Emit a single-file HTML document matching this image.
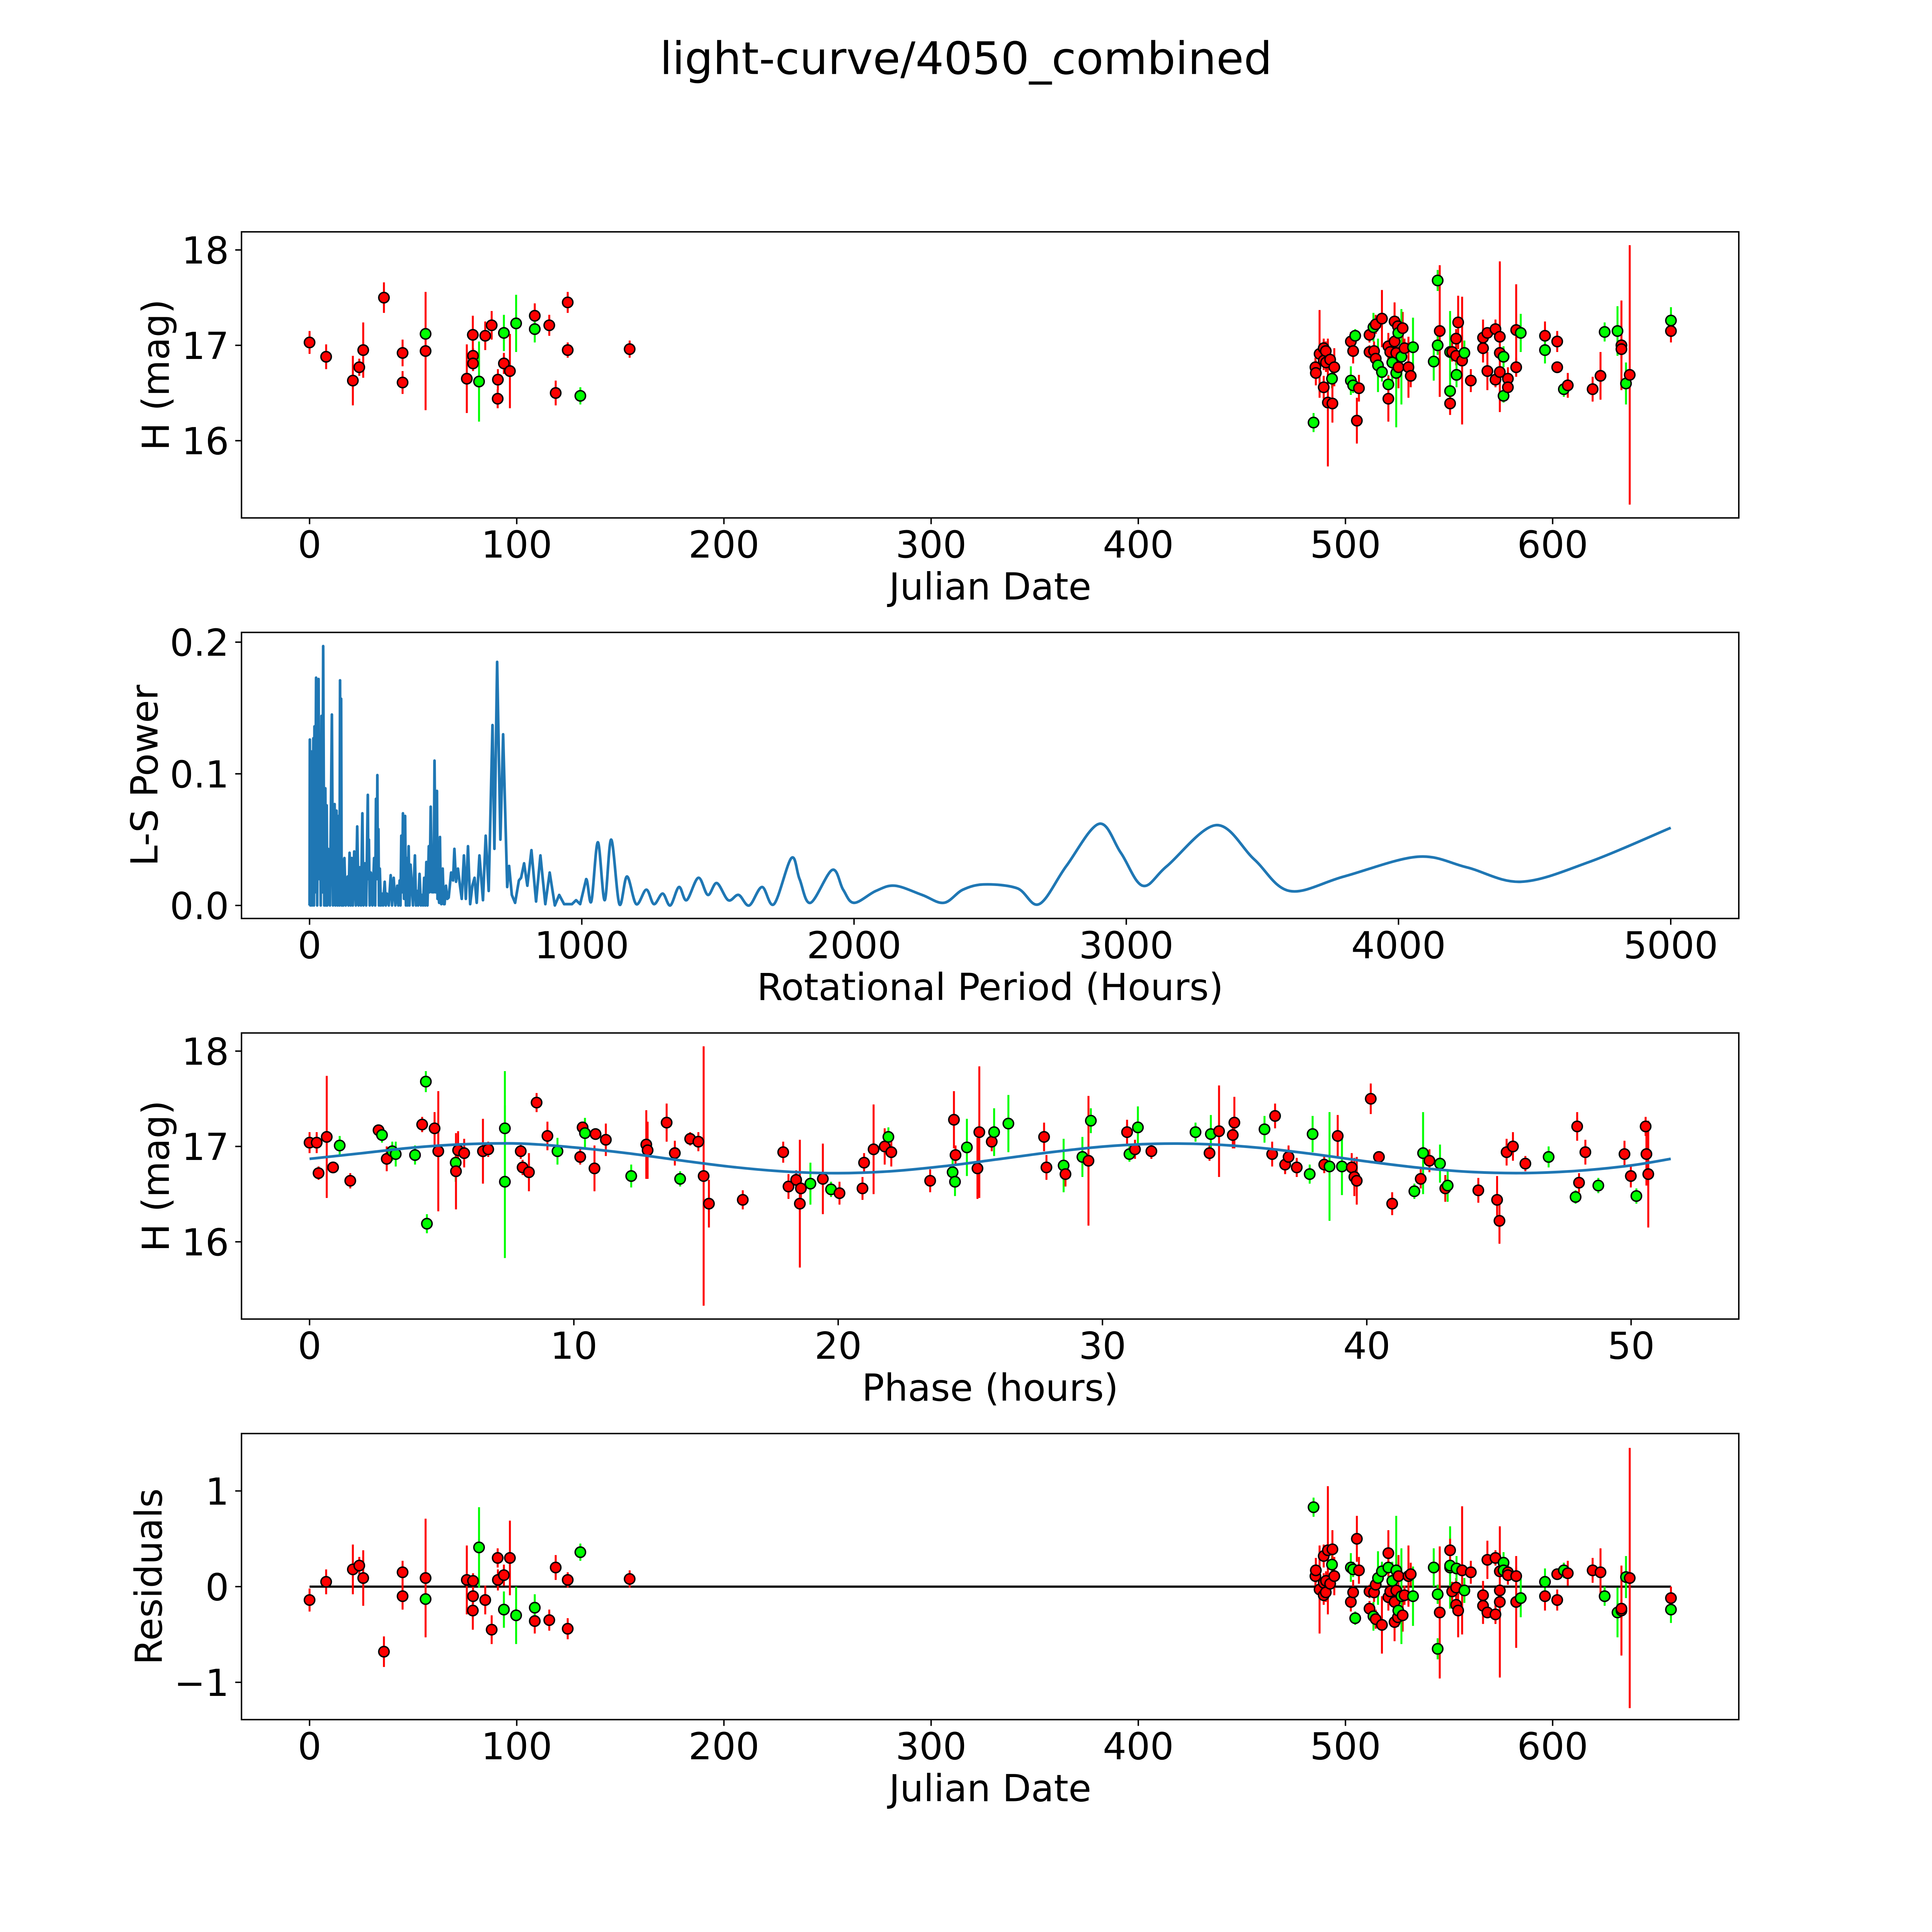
<!DOCTYPE html>
<html><head><meta charset="utf-8"><style>
html,body{margin:0;padding:0;background:#fff;width:100%;height:100%;overflow:hidden}
svg{display:block;width:100vw;height:100vh}
text{font-family:"DejaVu Sans","Liberation Sans",sans-serif;fill:#000}
</style></head><body>
<svg id="fig" xmlns="http://www.w3.org/2000/svg" viewBox="0 0 5400 5400" preserveAspectRatio="none">
<rect x="0" y="0" width="5400" height="5400" fill="#fff"/>
<text x="2700" y="207" font-size="125" text-anchor="middle">light-curve/4050_combined</text>
</svg>
<script>
// ---- Panel 1 & 4 data (Julian date observations) ----
const jd = [0,8,20.9,24,25.9,35.9,44.9,44.9,56,56,75.9,78.8,78.9,78.9,81.8,84.8,87.9,90.9,90.8,93.8,93.8,96.7,99.7,108.7,108.7,115.7,118.8,124.6,124.6,130.7,154.5,
484.6,485.5,485.7,487.5,489.5,489.5,489.5,490.5,490.6,491.5,492.6,493.5,493.7,494.6,502.6,504.7,502.6,503.7,503.7,506.5,505.5,511.6,511.6,513.5,514.6,517.6,513.8,514.6,515.7,517.6,520.7,520.7,520.7,521.6,522.6,523.7,523.7,524.5,524.5,525.3,525.5,525.6,527.6,527.0,528.5,530.4,531.5,532.6,542.6,544.5,544.5,545.5,550.5,550.5,550.5,551.5,553.4,553.4,554.4,553.6,556.3,557.4,560.5,566.4,566.4,568.5,568.5,572.4,572.4,574.5,574.5,574.5,576.3,576.3,578.4,578.4,582.4,584.6,582.4,596.3,596.3,602.2,602.2,605.4,607.3,619.3,623.1,625.1,631.3,633.2,633.2,635.4,637.2,657.1,657.1];
const mag = [17.03,16.88,16.63,16.77,16.95,17.50,16.92,16.61,17.12,16.94,16.65,17.11,16.89,16.81,16.62,17.10,17.21,16.64,16.44,17.13,16.81,16.73,17.23,17.31,17.17,17.21,16.50,17.45,16.95,16.47,16.96,
16.19,16.77,16.71,16.91,16.56,16.97,16.84,16.94,16.82,16.40,16.85,16.65,16.39,16.77,17.04,17.10,16.63,16.58,16.94,16.55,16.21,17.11,16.93,17.19,17.22,17.28,16.94,16.86,16.79,16.72,16.59,16.44,16.99,16.93,16.82,17.25,17.04,16.92,16.71,17.20,17.13,16.77,17.18,16.88,16.97,16.77,16.68,16.98,16.83,17.68,17.00,17.15,16.93,16.52,16.39,16.93,17.07,16.89,17.24,16.69,16.84,16.92,16.63,17.08,16.97,17.13,16.73,17.17,16.64,17.09,16.92,16.72,16.88,16.47,16.65,16.56,17.16,17.13,16.77,17.10,16.95,17.04,16.77,16.54,16.58,16.54,16.68,17.14,17.15,17.00,16.96,16.60,16.69,17.26,17.15];
const magErr = [.12,.13,.26,.09,.29,.16,.14,.12,.05,.62,.36,.2,.08,.08,.42,.15,.15,.11,.1,.19,.11,.39,.3,.13,.14,.11,.13,.11,.08,.09,.09,
.1,.1,.13,.46,.12,.1,.1,.1,.1,.67,.1,.1,.2,.2,.1,.07,.15,.08,.13,.14,.24,.08,.07,.15,.1,.3,.1,.1,.28,.1,.1,.24,.14,.1,.2,.2,.1,.1,.57,.1,.1,.22,.17,.5,.1,.32,.12,.31,.2,.11,.1,.69,.43,.08,.12,.1,.1,.1,.28,.13,.67,.13,.12,.19,.15,.06,.2,.1,.08,.79,.1,.1,.11,.07,.12,.1,.48,.2,.1,.15,.14,.11,.05,.08,.13,.13,.25,.1,.26,.47,.1,.22,1.36,.14,.12];
const filt = "rrrrrrrrgrrrrrgrrrrgrrgrgrrrrgr" + "grrrrrrrrr" + "rgrrrgggrr" + "rrrgrrrrgg" + "grrrgrrrgr" + "grrgrrrggg" + "grggrrrrrg" + "rgrrrrrrrr" + "rrggrrrgrr" + "grrgrrrggr" + "rgrgr";
const resid = [-0.14,0.05,0.18,0.22,0.09,-0.68,-0.1,0.15,-0.13,0.09,0.07,-0.25,0.06,-0.1,0.41,-0.14,-0.45,0.07,0.3,-0.24,0.12,0.3,-0.3,-0.36,-0.22,-0.35,0.2,-0.44,0.07,0.36,0.08,
0.83,0.11,0.17,-0.03,0.32,-0.09,0.04,-0.06,0.06,0.38,0.03,0.23,0.39,0.11,-0.16,-0.33,0.2,0.18,-0.06,0.17,0.5,-0.23,-0.05,-0.31,-0.34,-0.4,-0.06,0.02,0.09,0.16,0.2,0.35,-0.11,-0.05,0.06,-0.37,-0.16,-0.04,0.17,-0.32,-0.25,0.11,-0.3,-0.1,-0.09,0.11,0.13,-0.1,0.2,-0.65,-0.08,-0.27,0.2,0.22,0.38,-0.05,-0.19,-0.01,-0.25,0.19,0.17,-0.04,0.15,-0.2,-0.09,-0.27,0.28,-0.29,0.3,-0.16,-0.04,0.16,0.25,0.17,0.15,0.12,-0.16,-0.12,0.11,-0.1,0.05,-0.14,0.13,0.17,0.14,0.17,0.15,-0.1,-0.27,-0.25,-0.23,0.1,0.09,-0.24,-0.12];

// ---- Panel 2: Lomb-Scargle periodogram ----
const lsPeriod = [0,1,3,6,9,14,16,18,20,24,28,33,36,39,41,44,47,50,54,58,60,63,65,68,75,82,86,92,95,99,103,107,110,112,114,116,118,120,124,128,133,140,143,147,151,155,159,164,170,175,180,185,189,194,198,203,208,214,216,218,221,225,231,237,241,244,247,249,251,253,255,258,262,265,270,276,280,284,291,298,303,309,315,322,326,331,334,337,340,343,347,351,354,357,360,364,367,371,380,387,391,395,399,404,409,413,417,421,425,429,433,438,441,445,450,454,456,459,463,468,470,472,476,479,482,484,489,493,496,501,506,511,520,527,532,538,545,552,559,567,574,582,590,598,606,614,624,637,647,658,672,679,689,701,711,726,733,743,755,769,777,788,800,815,832,848,866,882,901,917,935,951,964,979,994,1016,1035,1059,1084,1108,1138,1166,1200,1237,1265,1297,1325,1357,1385,1428,1463,1496,1538,1576,1615,1662,1706,1770,1800,1840,1920,1960,2000,2080,2150,2250,2330,2400,2480,2600,2680,2780,2900,2980,3060,3150,3330,3470,3600,3800,4070,4250,4450,4700,5000];
const lsPower = [0,.126,0,.117,0,.127,0,.136,.01,.173,0,.172,.02,.096,0,.144,.01,.197,0,.089,0,.076,0,.043,0,.145,0,.077,0,.072,0,.068,0,.171,.02,.157,0,.035,0,.036,0,.022,0,.040,0,.036,0,.041,0,.060,0,.029,0,.070,0,.032,0,.084,.02,.050,0,.025,0,.036,0,.081,.02,.099,.02,.058,0,.028,0,.009,0,.018,0,.009,0,.023,0,.021,0,.015,0,.019,0,.053,.01,.070,.005,.068,0,.036,0,.045,0,.031,0,.038,0,.011,0,.024,0,.008,0,.021,0,.033,0,.045,.01,.075,.01,.036,.01,.110,.01,.087,.005,.012,.002,.052,.002,.001,.028,.001,.001,.015,.005,.006,.025,.019,.043,.018,.028,.016,.005,.038,.005,.045,.001,.015,.021,.002,.038,.004,.053,.011,.137,.043,.185,.050,.130,.014,.030,.008,.002,.019,.021,.032,.015,.042,.003,.038,.001,.025,0,.008,.001,.001,.001,.004,.001,.020,.003,.048,.004,.050,.001,.022,.001,.012,.001,.009,0,.014,.004,.021,.008,.017,.004,.008,0,.014,.001,.036,.02,.002,.027,.012,.002,.011,.015,.008,.002,.012,.016,.013,.001,.03,.062,.04,.015,.03,.061,.035,.011,.022,.037,.029,.018,.033,.059];

// ---- Panel 3: phase-folded light curve ----
const phase = [0,.27,.65,.34,.89,1.14,1.54,2.61,2.74,2.92,3.13,3.26,3.99,4.26,4.40,4.44,4.73,4.87,5.53,5.54,5.62,5.85,6.56,6.76,7.39,7.39,7.99,8.06,8.30,8.59,9.0,9.38,10.24,10.33,10.42,10.82,10.78,11.21,12.17,12.74,12.79,13.51,13.82,14.02,14.40,14.71,14.91,15.11,16.39,17.92,18.12,18.41,18.59,18.55,18.95,19.42,19.73,20.05,20.92,20.98,21.34,21.76,21.90,22.01,23.48,24.33,24.42,24.38,24.44,24.87,25.27,25.34,25.81,25.90,26.44,27.79,27.88,28.53,28.60,29.24,29.47,29.56,30.93,31.02,31.23,31.34,31.85,33.52,34.05,34.10,34.41,34.93,34.99,36.13,36.42,36.53,36.91,37.04,37.35,37.84,37.95,38.39,38.59,38.90,39.06,39.43,39.53,39.62,40.15,40.46,40.96,41.80,42.04,42.13,42.37,42.77,42.97,43.06,44.22,44.93,45.02,45.29,45.53,46.0,46.88,47.90,47.96,48.03,48.27,48.76,49.75,49.99,50.20,50.55,50.58,50.65];
const phaseMag = [17.04,17.04,17.10,16.72,16.78,17.01,16.64,17.17,17.12,16.87,16.95,16.92,16.91,17.23,17.68,16.19,17.19,16.95,16.83,16.74,16.96,16.93,16.95,16.97,17.19,16.63,16.95,16.78,16.73,17.46,17.11,16.95,16.89,17.20,17.14,17.13,16.77,17.07,16.69,17.02,16.96,17.25,16.93,16.66,17.08,17.05,16.69,16.40,16.44,16.94,16.58,16.65,16.56,16.40,16.61,16.66,16.55,16.51,16.56,16.83,16.97,17.0,17.10,16.94,16.64,16.73,16.63,17.28,16.91,16.99,16.77,17.15,17.05,17.15,17.24,17.10,16.78,16.80,16.71,16.89,16.85,17.27,17.15,16.92,16.97,17.2,16.95,17.15,16.93,17.13,17.16,17.12,17.25,17.18,16.92,17.32,16.81,16.89,16.78,16.71,17.13,16.81,16.79,17.11,16.79,16.78,16.68,16.64,17.50,16.89,16.40,16.53,16.66,16.93,16.85,16.82,16.56,16.59,16.54,16.44,16.22,16.94,17.0,16.82,16.89,16.47,17.21,16.62,16.94,16.59,16.92,16.69,16.48,17.21,16.92,16.71];
const phaseErr = [.11,.11,.64,.07,.05,.1,.08,.06,.08,.13,.1,.13,.1,.08,.11,.1,.17,.63,.2,.4,.2,.15,.34,.08,.6,.8,.08,.08,.2,.1,.15,.14,.08,.06,.16,.05,.24,.17,.12,.36,.3,.2,.13,.08,.07,.1,1.36,.25,.1,.11,.13,.1,.1,.67,.22,.37,.08,.12,.12,.1,.47,.19,.1,.15,.12,.15,.15,.3,.1,.3,.32,.69,.1,.25,.3,.15,.13,.28,.13,.21,.68,.13,.13,.08,.1,.22,.08,.1,.08,.2,.48,.14,.27,.14,.13,.13,.1,.12,.1,.1,.19,.09,.57,.22,.3,.15,.2,.25,.16,.05,.12,.08,.1,.43,.12,.2,.14,.17,.13,.25,.24,.14,.15,.08,.11,.07,.15,.1,.13,.08,.14,.12,.08,.1,.33,.56];
const phaseFilt = "rrrrrgrrgr" + "gggrggrrgr" + "rrrrggrrrr" + "rgrrgrrrgr" + "rrrgrrrrrr" + "rrrrgrgrrr" + "rrgrrggrrg" + "rrrggrrgrg" + "rgrgrgrgrg" + "rrrgrrrrrg" + "grgrgrrrrr" + "rgrgrgrgrr" + "rrrrggrrrg" + "rrgrrr";
// model curve samples (fitted sinusoid)
const modelPhase = [0,2,4,6,8,10,12,14,16,18,20,22,24,26,28,30,32,34,36,38,40,42,44,46,48,50,51.5];
const modelMag = [16.87,16.93,16.99,17.025,17.03,16.99,16.93,16.855,16.785,16.737,16.72,16.74,16.793,16.864,16.938,16.998,17.028,17.023,16.984,16.919,16.843,16.776,16.732,16.721,16.745,16.801,16.87];

// ---- ticks ----
const xTicksJD = [0,100,200,300,400,500,600];
const xTicksLS = [0,1000,2000,3000,4000,5000];
const xTicksPh = [0,10,20,30,40,50];
const yTicksMag = [16,17,18];
const yTicksLS = [0,0.1,0.2];
const yTicksRes = [-1,0,1];

const NS = "http://www.w3.org/2000/svg";
const svg = document.getElementById('fig');
const L = 675, R = 4860, PH = 799.6, FS = 104;
const TOPS = [648, 1767.6, 2887.2, 4006.8];
function mk(tag, attrs, parent) {
  const e = document.createElementNS(NS, tag);
  for (const k in attrs) e.setAttribute(k, attrs[k]);
  (parent || svg).appendChild(e);
  return e;
}
function scale(d0, d1, r0, r1) { return v => r0 + (v - d0) * (r1 - r0) / (d1 - d0); }
function colorOf(c) { return c === 'g' ? '#00ff00' : '#ff0000'; }

function makeAxes(idx, xlim, ylim, xticks, yticks, xfmt, yfmt, xlabel, ylabel, ylabelX, name) {
  const top = TOPS[idx], bot = top + PH;
  const g = mk('g', {});
  
  
  const x = scale(xlim[0], xlim[1], L, R);
  const y = scale(ylim[0], ylim[1], bot, top);
  const clipId = 'clip' + idx;
  const cp = mk('clipPath', { id: clipId }, g);
  mk('rect', { x: L, y: top, width: R - L, height: PH }, cp);
  const plot = mk('g', { 'clip-path': 'url(#' + clipId + ')' }, g);
  
  
  xticks.forEach(t => {
    const tx = x(t);
    const tl = mk('line', { x1: tx, x2: tx, y1: bot, y2: bot + 17.5, stroke: '#000', 'stroke-width': 4 }, g);
    
    
    const tt = mk('text', { x: tx, y: bot + 111, 'font-size': FS, 'text-anchor': 'middle' }, g);
    tt.textContent = xfmt(t);
    
    
  });
  yticks.forEach(t => {
    const ty = y(t);
    const tl = mk('line', { x1: L - 17.5, x2: L, y1: ty, y2: ty, stroke: '#000', 'stroke-width': 4 }, g);
    
    
    const tt = mk('text', { x: L - 35, y: ty + 38, 'font-size': FS, 'text-anchor': 'end' }, g);
    tt.textContent = yfmt(t);
    
    
  });
  const xl = mk('text', { x: (L + R) / 2, y: bot + 228, 'font-size': FS, 'text-anchor': 'middle' }, g);
  xl.textContent = xlabel;
  
  
  const cy = top + PH / 2;
  const yl = mk('text', { x: ylabelX, y: cy, 'font-size': FS, 'text-anchor': 'middle', transform: 'rotate(-90 ' + ylabelX + ' ' + cy + ')' }, g);
  yl.textContent = ylabel;
  
  
  return { g, plot, x, y, top, bot };
}
function frame(ax) {
  const f = mk('rect', { x: L, y: ax.top, width: R - L, height: PH, fill: 'none', stroke: '#000', 'stroke-width': 4 }, ax.g);
  
  
}
function errPoints(ax, xs, ys, es, cols, prefix) {
  for (let i = 0; i < xs.length; i++) {
    const l = mk('line', { x1: ax.x(xs[i]), x2: ax.x(xs[i]), y1: ax.y(ys[i] - es[i]), y2: ax.y(ys[i] + es[i]), stroke: colorOf(cols[i]), 'stroke-width': 5.5 }, ax.plot);
    
    
  }
  for (let i = 0; i < xs.length; i++) {
    const c = mk('circle', { cx: ax.x(xs[i]), cy: ax.y(ys[i]), r: 14.5, fill: colorOf(cols[i]), stroke: '#000', 'stroke-width': 4 }, ax.plot);
    
    
  }
}
const fmtInt = v => String(v);
const fmtMinus = v => (v < 0 ? '\u2212' + Math.abs(v) : String(v));

// Panel 1
const ax1 = makeAxes(0, [-32.85, 689.85], [15.19, 18.19], xTicksJD, yTicksMag, fmtInt, fmtInt, 'Julian Date', 'H (mag)', 472, 'magnitude-vs-date-panel');
errPoints(ax1, jd, mag, magErr, filt, 'observation');
frame(ax1);

// Panel 2
const ax2 = makeAxes(1, [-250, 5250], [-0.0099, 0.2074], xTicksLS, yTicksLS, fmtInt, v => v.toFixed(1), 'Rotational Period (Hours)', 'L-S Power', 440, 'periodogram-panel');
(function () {
  const px = lsPeriod.map(ax2.x), py = lsPower.map(ax2.y);
  let d = 'M' + px[0] + ',' + py[0];
  for (let i = 1; i < px.length; i++) {
    if (lsPeriod[i - 1] < 1000) { d += ' L' + px[i] + ',' + py[i]; continue; }
    const p0 = [px[i - 2] ?? px[i - 1], py[i - 2] ?? py[i - 1]], p1 = [px[i - 1], py[i - 1]], p2 = [px[i], py[i]];
    const p3 = i + 1 < px.length ? [px[i + 1], py[i + 1]] : p2;
    const c1 = [p1[0] + (p2[0] - p0[0]) / 6, p1[1] + (p2[1] - p0[1]) / 6];
    const c2 = [p2[0] - (p3[0] - p1[0]) / 6, p2[1] - (p3[1] - p1[1]) / 6];
    d += ' C' + c1[0] + ',' + c1[1] + ' ' + c2[0] + ',' + c2[1] + ' ' + p2[0] + ',' + p2[1];
  }
  const path = mk('path', { d: d, fill: 'none', stroke: '#1f77b4', 'stroke-width': 7.5, 'stroke-linejoin': 'round' }, ax2.plot);
  
  
})();
frame(ax2);

// Panel 3
const ax3 = makeAxes(2, [-2.575, 54.075], [15.19, 18.19], xTicksPh, yTicksMag, fmtInt, fmtInt, 'Phase (hours)', 'H (mag)', 472, 'phase-folded-panel');
errPoints(ax3, phase, phaseMag, phaseErr, phaseFilt, 'phased');
(function () {
  const px = modelPhase.map(ax3.x), py = modelMag.map(ax3.y);
  let d = 'M' + px[0] + ',' + py[0];
  for (let i = 1; i < px.length; i++) {
    const p0 = i > 1 ? [px[i - 2], py[i - 2]] : [px[i - 1], py[i - 1]], p1 = [px[i - 1], py[i - 1]], p2 = [px[i], py[i]];
    const p3 = i + 1 < px.length ? [px[i + 1], py[i + 1]] : p2;
    d += ' C' + (p1[0] + (p2[0] - p0[0]) / 6) + ',' + (p1[1] + (p2[1] - p0[1]) / 6) + ' ' + (p2[0] - (p3[0] - p1[0]) / 6) + ',' + (p2[1] - (p3[1] - p1[1]) / 6) + ' ' + p2[0] + ',' + p2[1];
  }
  const path = mk('path', { d: d, fill: 'none', stroke: '#1f77b4', 'stroke-width': 7.5 }, ax3.plot);
  
  
})();
frame(ax3);

// Panel 4
const ax4 = makeAxes(3, [-32.85, 689.85], [-1.39, 1.6], xTicksJD, yTicksRes, fmtInt, fmtMinus, 'Julian Date', 'Residuals', 452, 'residuals-panel');
(function () {
  const zl = mk('line', { x1: ax4.x(jd[0]), x2: ax4.x(jd[jd.length - 1]), y1: ax4.y(0), y2: ax4.y(0), stroke: '#000', 'stroke-width': 6 }, ax4.plot);
  
  
})();
errPoints(ax4, jd, resid, magErr, filt, 'residual');
frame(ax4);
</script>
</body></html>
